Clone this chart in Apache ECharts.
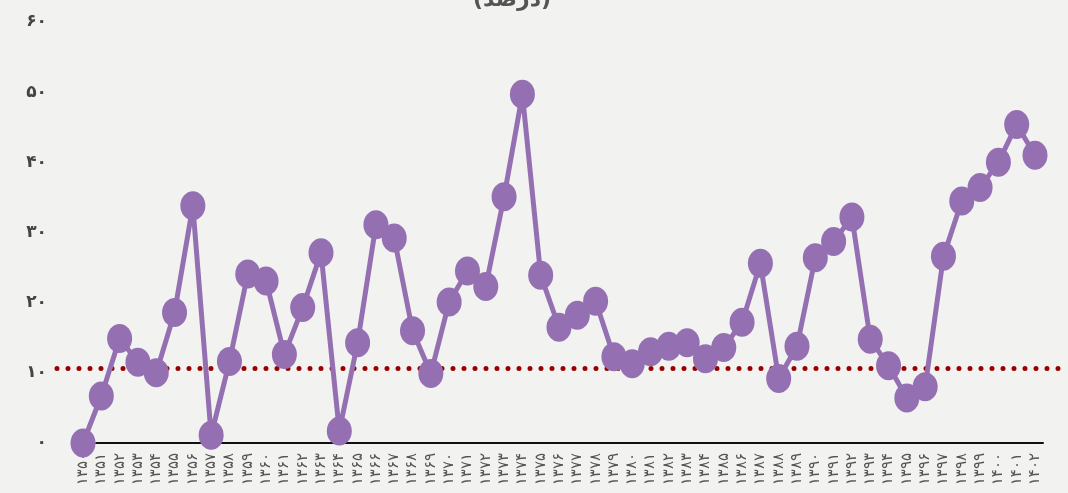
<!DOCTYPE html>
<html>
<head>
<meta charset="utf-8">
<script src="https://cdn.jsdelivr.net/npm/echarts@6/dist/echarts.min.js"></script>
<style>
  html, body { margin: 0; padding: 0; background: #f2f2f0; }
  #chart { width: 1068px; height: 493px; }
</style>
</head>
<body>
<div id="chart"></div>
<script>
// سال‌ها ۱۳۵۰ تا ۱۴۰۲
const years = ['۱۳۵۰','۱۳۵۱','۱۳۵۲','۱۳۵۳','۱۳۵۴','۱۳۵۵','۱۳۵۶','۱۳۵۷','۱۳۵۸','۱۳۵۹',
  '۱۳۶۰','۱۳۶۱','۱۳۶۲','۱۳۶۳','۱۳۶۴','۱۳۶۵','۱۳۶۶','۱۳۶۷','۱۳۶۸','۱۳۶۹',
  '۱۳۷۰','۱۳۷۱','۱۳۷۲','۱۳۷۳','۱۳۷۴','۱۳۷۵','۱۳۷۶','۱۳۷۷','۱۳۷۸','۱۳۷۹',
  '۱۳۸۰','۱۳۸۱','۱۳۸۲','۱۳۸۳','۱۳۸۴','۱۳۸۵','۱۳۸۶','۱۳۸۷','۱۳۸۸','۱۳۸۹',
  '۱۳۹۰','۱۳۹۱','۱۳۹۲','۱۳۹۳','۱۳۹۴','۱۳۹۵','۱۳۹۶','۱۳۹۷','۱۳۹۸','۱۳۹۹',
  '۱۴۰۰','۱۴۰۱','۱۴۰۲']
const values = [0, 6.7, 14.9, 11.5, 10.0, 18.6, 33.8, 1.1, 11.6, 24.1,
  23.1, 12.6, 19.3, 27.1, 1.7, 14.3, 31.1, 29.2, 16.0, 9.9,
  20.1, 24.5, 22.3, 35.1, 49.7, 23.9, 16.5, 18.2, 20.2, 12.3,
  11.3, 13.0, 13.8, 14.3, 12.0, 13.6, 17.2, 25.6, 9.2, 13.8,
  26.4, 28.7, 32.2, 14.8, 11.0, 6.4, 8.0, 26.6, 34.5, 36.4,
  40.0, 45.4, 41.0]
const avgLevel = 10.6
const yTicks = ['۰','۱۰','۲۰','۳۰','۴۰','۵۰','۶۰']

const chart = echarts.init(document.getElementById('chart'))

const option = {
  backgroundColor: '#f2f2f0',
  animation: false,
  title: {
    text: '(درصد)',
    left: 468,
    top: -16,
    textStyle: { fontFamily: 'DejaVu Sans', fontSize: 22, fontWeight: 'bold', color: '#555' }
  },
  grid: [
    { left: 83, right: 33, top: 22, bottom: 50 },
    { left: 96, right: 25, top: 22, bottom: 50 },
    { left: 57, right: 3, top: 22, bottom: 50 }
  ],
  xAxis: [
    {
      type: 'category',
      gridIndex: 0,
      data: years,
      boundaryGap: false,
      axisLine: { show: false },
      axisTick: { show: false },
      axisLabel: {
        rotate: 90,
        interval: 0,
        margin: 10,
        fontFamily: 'DejaVu Sans',
        fontSize: 15,
        color: '#555'
      },
      splitLine: { show: false }
    },
    {
      type: 'value',
      gridIndex: 1,
      min: 0, max: 1,
      axisLine: { show: true, onZero: false, lineStyle: { color: '#111', width: 2 } },
      axisTick: { show: false },
      axisLabel: { show: false },
      splitLine: { show: false }
    },
    {
      type: 'value',
      gridIndex: 2,
      min: 0, max: 1,
      show: false
    }
  ],
  yAxis: [
    {
      type: 'value',
      gridIndex: 0,
      min: 0, max: 60, interval: 10,
      axisLine: { show: false },
      axisTick: { show: false },
      splitLine: { show: false },
      axisLabel: {
        margin: 36,
        fontFamily: 'DejaVu Sans',
        fontSize: 17,
        fontWeight: 'bold',
        color: '#444',
        formatter: (v) => yTicks[v / 10]
      }
    },
    { type: 'value', gridIndex: 1, min: 0, max: 60, show: false },
    { type: 'value', gridIndex: 2, min: 0, max: 60, show: false }
  ],
  series: [
    {
      type: 'line',
      xAxisIndex: 2,
      yAxisIndex: 2,
      data: [[0, avgLevel], [1, avgLevel]],
      symbol: 'none',
      lineStyle: { color: '#990000', width: 5, type: [0, 11], cap: 'round' },
      z: 1
    },
    {
      type: 'line',
      xAxisIndex: 0,
      yAxisIndex: 0,
      data: values,
      symbol: 'circle',
      symbolSize: [25, 29],
      lineStyle: { color: '#9470b2', width: 5 },
      itemStyle: { color: '#9470b2' },
      z: 3
    }
  ]
}

chart.setOption(option)
</script>
</body>
</html>
